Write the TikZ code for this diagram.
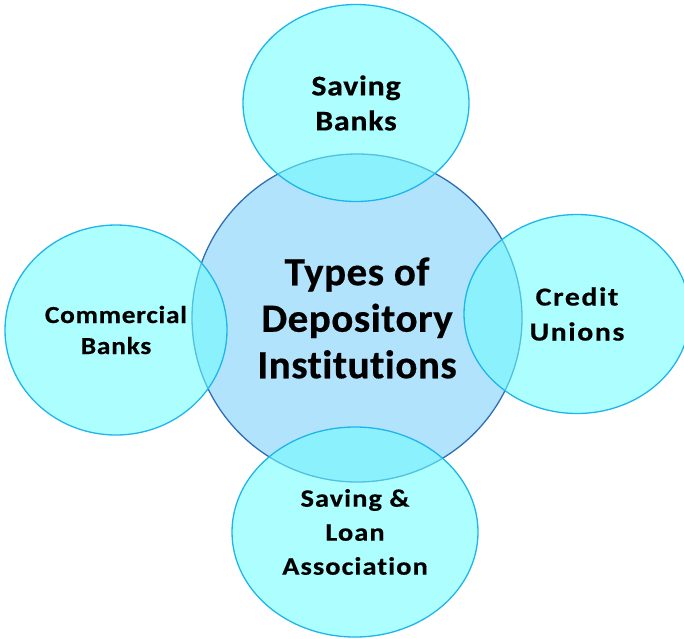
\documentclass[tikz,border=0pt]{standalone}
\usepackage{fontspec}
\setmainfont{Carlito}[Ligatures=NoCommon]
\usetikzlibrary{shapes.geometric}
\definecolor{mcyan}{rgb}{0.43, 1.0, 1.0}
\definecolor{mcyanline}{rgb}{0.12, 0.71, 0.92}
\definecolor{mblue}{rgb}{0.70, 0.89, 0.99}
\definecolor{mblueline}{rgb}{0.18, 0.43, 0.71}
\newcommand{\kindfont}[4]{\fontsize{#1}{#2}\selectfont\bfseries
  \addfontfeature{FakeStretch=#3, LetterSpace=#4, FakeBold=0.4}}
\tikzset{kind/.style = {ellipse, draw=mcyanline, line width=1.3pt,
                        fill=mcyan, fill opacity=0.57, text opacity=1,
                        align=center, inner sep=0pt}}

\begin{document}
\begin{tikzpicture}[x=1pt, y=-1pt]
    \useasboundingbox (0, 0) rectangle (684, 638);
    \clip (0, 0) rectangle (684, 638);

    \node (types) [ellipse, draw=mblueline, fill=mblue, line width=1.3pt,
                   minimum width=330pt, minimum height=328pt, inner sep=0pt, align=center,
                   font=\kindfont{40}{46.5}{1.03}{1}] at (357, 318)
        {Types of\\Depository\\Institutions};

    \node (saving) [kind, minimum width=226pt, minimum height=197pt,
                    font=\kindfont{28.5}{35}{1.12}{2.5}] at (356, 103) {Saving\\Banks};
    \node (commercial) [kind, minimum width=222pt, minimum height=210pt,
                        font=\kindfont{24.5}{31}{1.12}{3}] at (116, 330) {Commercial\\Banks};
    \node (credit) [kind, minimum width=226pt, minimum height=199pt,
                    font=\kindfont{26}{35}{1.15}{6}] at (577, 314) {Credit\\Unions};
    \node (loan) [kind, minimum width=246pt, minimum height=210pt,
                  font=\kindfont{25}{34}{1.14}{4}] at (355, 532) {Saving \&\\Loan\\Association};
  \end{tikzpicture}
\end{document}
